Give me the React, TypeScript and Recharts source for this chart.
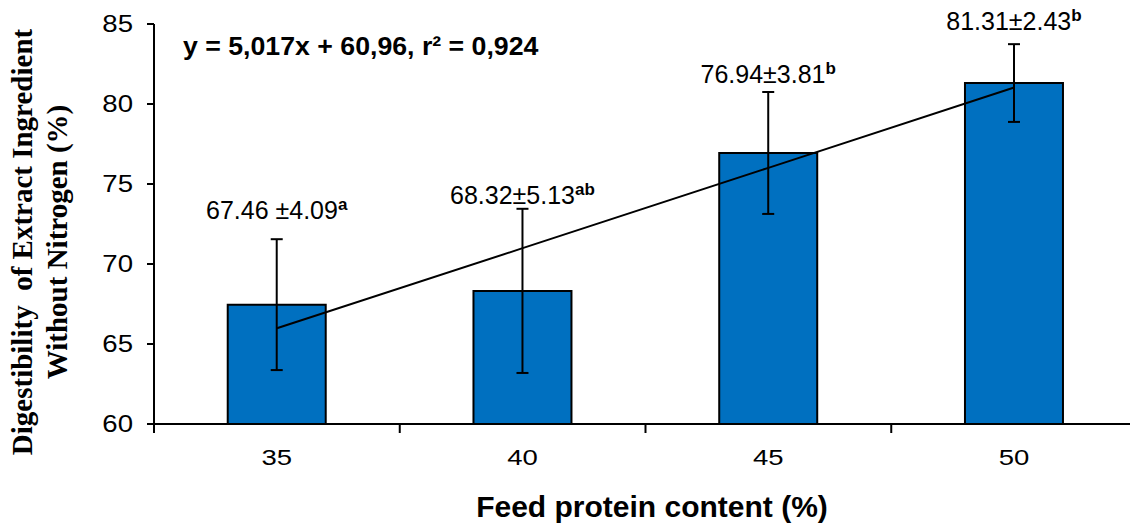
import React from 'react';
import { ComposedChart, Bar, Line, XAxis, YAxis, ErrorBar, LabelList, Customized } from 'recharts';

const categories = ['35', '40', '45', '50'];
const digestibility = [67.46, 68.32, 76.94, 81.31];
const stdDev = [4.09, 5.13, 3.81, 2.43];
const labelTexts = ['67.46 ±4.09', '68.32±5.13', '76.94±3.81', '81.31±2.43'];
const letters = ['a', 'ab', 'b', 'b'];
const trendValues = [65.98, 70.99, 76.01, 81.03];
const yTicks = [60, 65, 70, 75, 80, 85];
const boundaryTicks = [0, 1, 2, 3, 4];
const equationText = 'y = 5,017x + 60,96, r² = 0,924';
const yTitleLines = ['Digestibility  of Extract Ingredient', 'Without Nitrogen (%)'];
const xTitle = 'Feed protein content (%)';

const data = categories.map((c, i) => ({
  protein: c,
  value: digestibility[i],
  err: stdDev[i],
  trend: trendValues[i],
  pos: i + 0.5,
}));

const SANS = '"Liberation Sans", Arial, sans-serif';
const SERIF = '"Liberation Serif", "Times New Roman", serif';
const LABEL_GAP = [20, 5, 9, 14];

const YTick = (props: any) => {
  const { x, y, payload } = props;
  return (
    <text
      transform={`translate(${x},${y}) scale(1.2,1)`}
      textAnchor="end"
      dy="0.36em"
      fontSize={23}
      fontFamily={SANS}
      fill="#000"
    >
      {payload.value}
    </text>
  );
};

const XTick = (props: any) => {
  const { x, payload } = props;
  return (
    <text
      transform={`translate(${x},${457}) scale(1.25,1)`}
      textAnchor="middle"
      dy="0.36em"
      fontSize={22}
      fontFamily={SANS}
      fill="#000"
    >
      {payload.value}
    </text>
  );
};

const EmptyTick = () => <g />;

const renderValueLabel = (props: any) => {
  const vb = props.viewBox || props;
  const { x, y, width, height } = vb;
  const index = props.index;
  const value = digestibility[index];
  const unit = height / (value - 60);
  const top = y - stdDev[index] * unit - LABEL_GAP[index];
  return (
    <text x={x + width / 2} y={top} textAnchor="middle" fontSize={25} fontFamily={SANS} fill="#000">
      {labelTexts[index]}
      <tspan fontSize={17} fontWeight="bold" dy={-9}>
        {letters[index]}
      </tspan>
    </text>
  );
};

const renderYTitle = () => (
  <g>
    <text
      transform="translate(32,242) rotate(-90)"
      textAnchor="middle"
      fontSize={29}
      fontWeight="bold"
      fontFamily={SERIF}
      fill="#000"
      style={{ whiteSpace: 'pre' }}
    >
      {yTitleLines[0]}
    </text>
    <text
      transform="translate(67,242) rotate(-90)"
      textAnchor="middle"
      fontSize={29}
      fontWeight="bold"
      fontFamily={SERIF}
      fill="#000"
    >
      {yTitleLines[1]}
    </text>
  </g>
);

const renderXTitle = () => (
  <text x={652} y={517} textAnchor="middle" fontSize={30} fontWeight="bold" fontFamily={SANS} fill="#000">
    {xTitle}
  </text>
);

const Equation = () => (
  <text x={183} y={55} fontSize={26.7} fontWeight="bold" fontFamily={SANS} fill="#000">
    {equationText}
  </text>
);

export default function App() {
  return (
    <div
      style={{
        position: 'absolute',
        left: 0,
        top: 0,
        width: 1130,
        height: 523,
        overflow: 'hidden',
        background: '#fff',
      }}
    >
      <ComposedChart
        width={1140}
        height={523}
        data={data}
        margin={{ top: 24, right: 3, left: 0, bottom: 0 }}
        barCategoryGap="30%"
      >
        <XAxis
          xAxisId={0}
          type="number"
          dataKey="pos"
          domain={[0, 4]}
          ticks={boundaryTicks}
          height={1}
          tick={EmptyTick}
          axisLine={{ stroke: '#000', strokeWidth: 2 }}
          tickSize={9}
          tickLine={{ stroke: '#000', strokeWidth: 2 }}
          interval={0}
          allowDataOverflow
        />
        <XAxis
          xAxisId={1}
          dataKey="protein"
          height={98}
          tickLine={false}
          tickSize={0}
          tickMargin={0}
          axisLine={false}
          tick={<XTick />}
          interval={0}
          label={{ content: renderXTitle }}
        />
        <YAxis
          width={154}
          domain={[60, 85]}
          ticks={yTicks}
          interval={0}
          tickSize={7}
          tickMargin={14}
          axisLine={{ stroke: '#000', strokeWidth: 2 }}
          tickLine={{ stroke: '#000', strokeWidth: 2 }}
          tick={<YTick />}
          label={{ content: renderYTitle }}
        />
        <Bar xAxisId={1} dataKey="value" fill="#0070C0" stroke="#000" strokeWidth={2} isAnimationActive={false}>
          <ErrorBar dataKey="err" width={6} stroke="#000" strokeWidth={2} direction="y" />
          <LabelList dataKey="value" content={renderValueLabel} />
        </Bar>
        <Line
          xAxisId={1}
          dataKey="trend"
          stroke="#000"
          strokeWidth={2}
          dot={false}
          activeDot={false}
          isAnimationActive={false}
          legendType="none"
        />
        <Customized component={Equation} />
      </ComposedChart>
    </div>
  );
}
